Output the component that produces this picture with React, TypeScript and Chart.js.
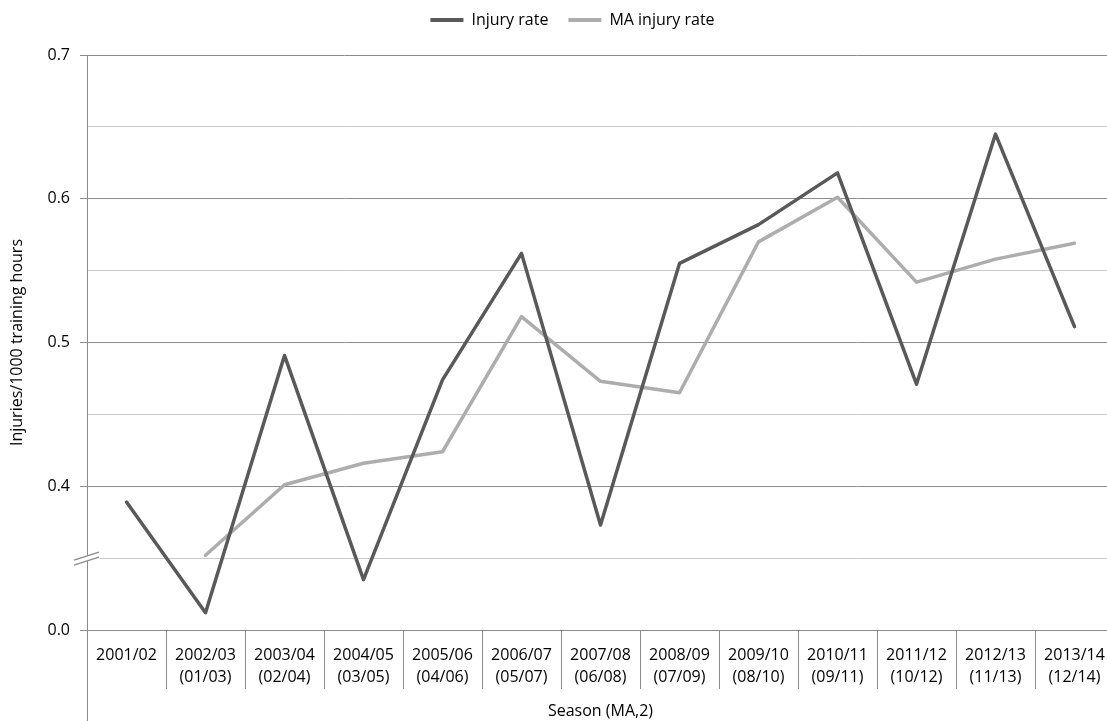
import React, { useEffect, useRef } from 'react';
import { Chart, registerables } from 'chart.js';

Chart.register(...registerables);

const seasons = ['2001/02', '2002/03', '2003/04', '2004/05', '2005/06', '2006/07', '2007/08', '2008/09', '2009/10', '2010/11', '2011/12', '2012/13', '2013/14'];
const maWindows = ['', '(01/03)', '(02/04)', '(03/05)', '(04/06)', '(05/07)', '(06/08)', '(07/09)', '(08/10)', '(09/11)', '(10/12)', '(11/13)', '(12/14)'];
const injuryRate = [0.389, 0.312, 0.491, 0.335, 0.474, 0.562, 0.373, 0.555, 0.582, 0.618, 0.471, 0.645, 0.511];
const maInjuryRate = [null, 0.352, 0.401, 0.416, 0.424, 0.518, 0.473, 0.465, 0.570, 0.601, 0.542, 0.558, 0.569];
const yTickLabels: Record<number, string> = { 30: '0.0', 40: '0.4', 50: '0.5', 60: '0.6', 70: '0.7' };
const yMin = 0.3;
const yMax = 0.7;
const yStep = 0.05;
const breakValue = 0.35;

const FONT = "'Open Sans', sans-serif";
const MAJOR = '#8c8c8c';
const MINOR = '#c9c9c9';

const legendSpacer = {
  id: 'legendSpacer',
  beforeInit(chart: any) {
    const orig = chart.legend.fit;
    chart.legend.fit = function () {
      orig.call(this);
      this.height = 63;
    };
  },
  afterLayout(chart: any) {
    if (chart.legend) chart.legend.left += 31;
  },
};

const axisDecor = {
  id: 'axisDecor',
  afterDraw(chart: any) {
    const { ctx, chartArea } = chart;
    const L = Math.round(chartArea.left) + 0.5;
    const y0 = chart.scales.y.getPixelForValue(breakValue);
    ctx.save();
    // left axis line continues to the bottom
    ctx.strokeStyle = MAJOR;
    ctx.lineWidth = 1;
    ctx.beginPath();
    ctx.moveTo(L, chartArea.bottom);
    ctx.lineTo(L, chart.height);
    ctx.stroke();
    // axis break
    ctx.fillStyle = '#ffffff';
    ctx.fillRect(L - 1, y0 - 1.5, 13, 3);
    ctx.beginPath();
    ctx.moveTo(L - 13.5, y0 + 2);
    ctx.lineTo(L + 11.5, y0 - 6);
    ctx.lineTo(L + 11.5, y0 - 1);
    ctx.lineTo(L - 13.5, y0 + 7);
    ctx.closePath();
    ctx.fill();
    ctx.strokeStyle = MAJOR;
    ctx.lineWidth = 1.4;
    ctx.beginPath();
    ctx.moveTo(L - 13.5, y0 + 2);
    ctx.lineTo(L + 11.5, y0 - 6);
    ctx.moveTo(L - 13.5, y0 + 7);
    ctx.lineTo(L + 11.5, y0 - 1);
    ctx.stroke();
    ctx.restore();
  },
};

function isMajor(v: number) {
  return Math.round(v * 100) % 10 === 0;
}

export default function App() {
  const ref = useRef<HTMLCanvasElement>(null);

  useEffect(() => {
    const xLabels = seasons.map((s, i) => (maWindows[i] ? [s, maWindows[i]] : s));
    const chart = new Chart(ref.current as HTMLCanvasElement, {
      type: 'line',
      data: {
        labels: xLabels as any,
        datasets: [
          {
            label: 'Injury rate',
            data: injuryRate,
            borderColor: '#595959',
            backgroundColor: '#595959',
            borderWidth: 3.5,
            pointRadius: 0,
            tension: 0,
            borderJoinStyle: 'round',
            borderCapStyle: 'round',
          },
          {
            label: 'MA injury rate',
            data: maInjuryRate as any,
            borderColor: '#adadad',
            backgroundColor: '#adadad',
            borderWidth: 3.5,
            pointRadius: 0,
            tension: 0,
            borderJoinStyle: 'round',
            borderCapStyle: 'round',
          },
        ],
      },
      options: {
        animation: false,
        responsive: true,
        maintainAspectRatio: false,
        layout: { padding: { top: -8, left: 0, right: 0, bottom: 0 } },
        plugins: {
          tooltip: { enabled: false },
          legend: {
            position: 'top',
            labels: {
              boxWidth: 33,
              boxHeight: 4,
              padding: 20,
              color: '#000',
              font: { family: FONT, size: 16 },
              generateLabels: (c: any) =>
                c.data.datasets.map((ds: any, i: number) => ({
                  text: ds.label,
                  fillStyle: ds.borderColor,
                  strokeStyle: ds.borderColor,
                  lineWidth: 0,
                  hidden: false,
                  datasetIndex: i,
                  fontColor: '#000',
                })),
            },
          },
        },
        scales: {
          x: {
            type: 'category',
            offset: true,
            afterFit: (s: any) => {
              s.height = 91;
            },
            grid: {
              offset: true,
              drawOnChartArea: false,
              drawTicks: true,
              tickLength: 59,
              color: MAJOR,
              tickColor: MAJOR,
              lineWidth: 1,
            },
            border: { display: true, color: MAJOR, width: 1 },
            ticks: {
              autoSkip: false,
              maxRotation: 0,
              minRotation: 0,
              padding: -45,
              color: '#000',
              font: { family: FONT, size: 16, lineHeight: 1.375 },
            },
            title: {
              display: true,
              text: 'Season (MA,2)',
              color: '#000',
              font: { family: FONT, size: 16 },
              padding: { top: 0, bottom: 0 },
            },
          },
          y: {
            type: 'linear',
            min: yMin,
            max: yMax,
            afterFit: (s: any) => {
              s.width = 87;
            },
            ticks: {
              stepSize: yStep,
              padding: 10,
              color: '#000',
              font: { family: FONT, size: 16 },
              callback: (value: any) => yTickLabels[Math.round(Number(value) * 100)] ?? '',
            },
            grid: {
              drawTicks: true,
              tickLength: 7,
              lineWidth: 1,
              color: (ctx: any) => (isMajor(ctx.tick ? ctx.tick.value : 0) ? MAJOR : MINOR),
              tickColor: (ctx: any) => (isMajor(ctx.tick ? ctx.tick.value : 0) ? MAJOR : 'rgba(0,0,0,0)'),
            },
            border: { display: true, color: MAJOR, width: 1 },
            title: {
              display: true,
              text: 'Injuries/1000 training hours',
              color: '#000',
              font: { family: FONT, size: 16 },
              padding: { top: 8, bottom: 0 },
            },
          },
        },
      },
      plugins: [legendSpacer, axisDecor],
    });
    return () => chart.destroy();
  }, []);

  return (
    <div style={{ position: 'fixed', left: 0, top: 0, width: '100vw', height: '100vh', overflow: 'hidden', background: '#fff' }}>
      <div style={{ position: 'relative', width: 1114, height: 721 }}>
        <canvas ref={ref} />
      </div>
    </div>
  );
}
